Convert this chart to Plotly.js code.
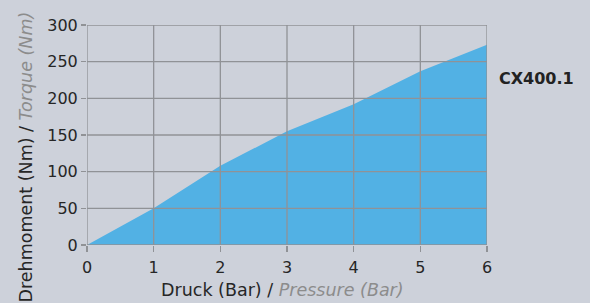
<!DOCTYPE html>
<html>
<head>
<meta charset="utf-8">
<script src="https://cdn.plot.ly/plotly-3.0.1.min.js"></script>
<style>html,body{margin:0;padding:0;background:#cdd1da;}#chart{width:590px;height:303px;}</style>
</head>
<body>
<div id="chart"></div>
<script>
// Data
var pressure = [0, 1, 2, 3, 4, 5, 6];
var torque = [0, 50, 108, 155, 192, 237, 273];
var xTicks = [0, 1, 2, 3, 4, 5, 6];
var yTicks = [0, 50, 100, 150, 200, 250, 300];
var seriesName = 'CX400.1';

var gridColor = '#909296';
var shapes = [];
xTicks.forEach(function (v) {
  shapes.push({type: 'line', layer: 'above', xref: 'x', yref: 'paper', x0: v, x1: v, y0: 0, y1: 1,
    line: {color: gridColor, width: 1.3}});
});
yTicks.forEach(function (v) {
  shapes.push({type: 'line', layer: 'above', xref: 'paper', yref: 'y', x0: 0, x1: 1, y0: v, y1: v,
    line: {color: gridColor, width: 1.3}});
});

var trace = {
  x: pressure, y: torque, type: 'scatter', mode: 'lines', fill: 'tozeroy',
  fillcolor: '#52b1e4', line: {width: 0, color: '#52b1e4'}, hoverinfo: 'skip', showlegend: false
};

var layout = {
  width: 590, height: 303,
  margin: {l: 87, r: 103, t: 25, b: 58},
  paper_bgcolor: '#cdd1da', plot_bgcolor: '#cdd1da',
  font: {family: 'DejaVu Sans, Verdana, sans-serif', color: '#262626', size: 16},
  showlegend: false,
  xaxis: {
    range: [0, 6], tickvals: xTicks, ticktext: xTicks.map(String),
    showgrid: false, zeroline: false, showline: false,
    ticks: 'outside', ticklen: 6, tickwidth: 1.3, tickcolor: gridColor, ticklabelstandoff: 2,
    tickfont: {size: 16, color: '#262626'}, fixedrange: true
  },
  yaxis: {
    range: [0, 300], tickvals: yTicks, ticktext: yTicks.map(String),
    showgrid: false, zeroline: false, showline: false,
    ticks: 'outside', ticklen: 5, tickwidth: 1.3, tickcolor: gridColor,
    tickfont: {size: 16, color: '#262626'}, fixedrange: true
  },
  shapes: shapes,
  annotations: [
    {xref: 'paper', yref: 'paper', x: 1.025, y: (245 - 78) / 220, xanchor: 'left', yanchor: 'middle',
      text: '<b>' + seriesName + '</b>', showarrow: false, font: {size: 16, color: '#222222'}},
    {xref: 'paper', yref: 'paper', x: (282 - 87) / 400, y: (245 - 290) / 220, xanchor: 'center', yanchor: 'middle',
      text: 'Druck (Bar) / <i><span style="color:#8c8c8c">Pressure (Bar)</span></i>', showarrow: false,
      font: {size: 17.5, color: '#262626'}},
    {xref: 'paper', yref: 'paper', x: (25 - 87) / 400, y: (245 - 157.5) / 220, xanchor: 'center', yanchor: 'middle',
      textangle: -90,
      text: 'Drehmoment (Nm) / <i><span style="color:#8c8c8c">Torque (Nm)</span></i>', showarrow: false,
      font: {size: 17.5, color: '#262626'}}
  ]
};

Plotly.newPlot('chart', [trace], layout, {displayModeBar: false, staticPlot: true});
</script>
</body>
</html>
